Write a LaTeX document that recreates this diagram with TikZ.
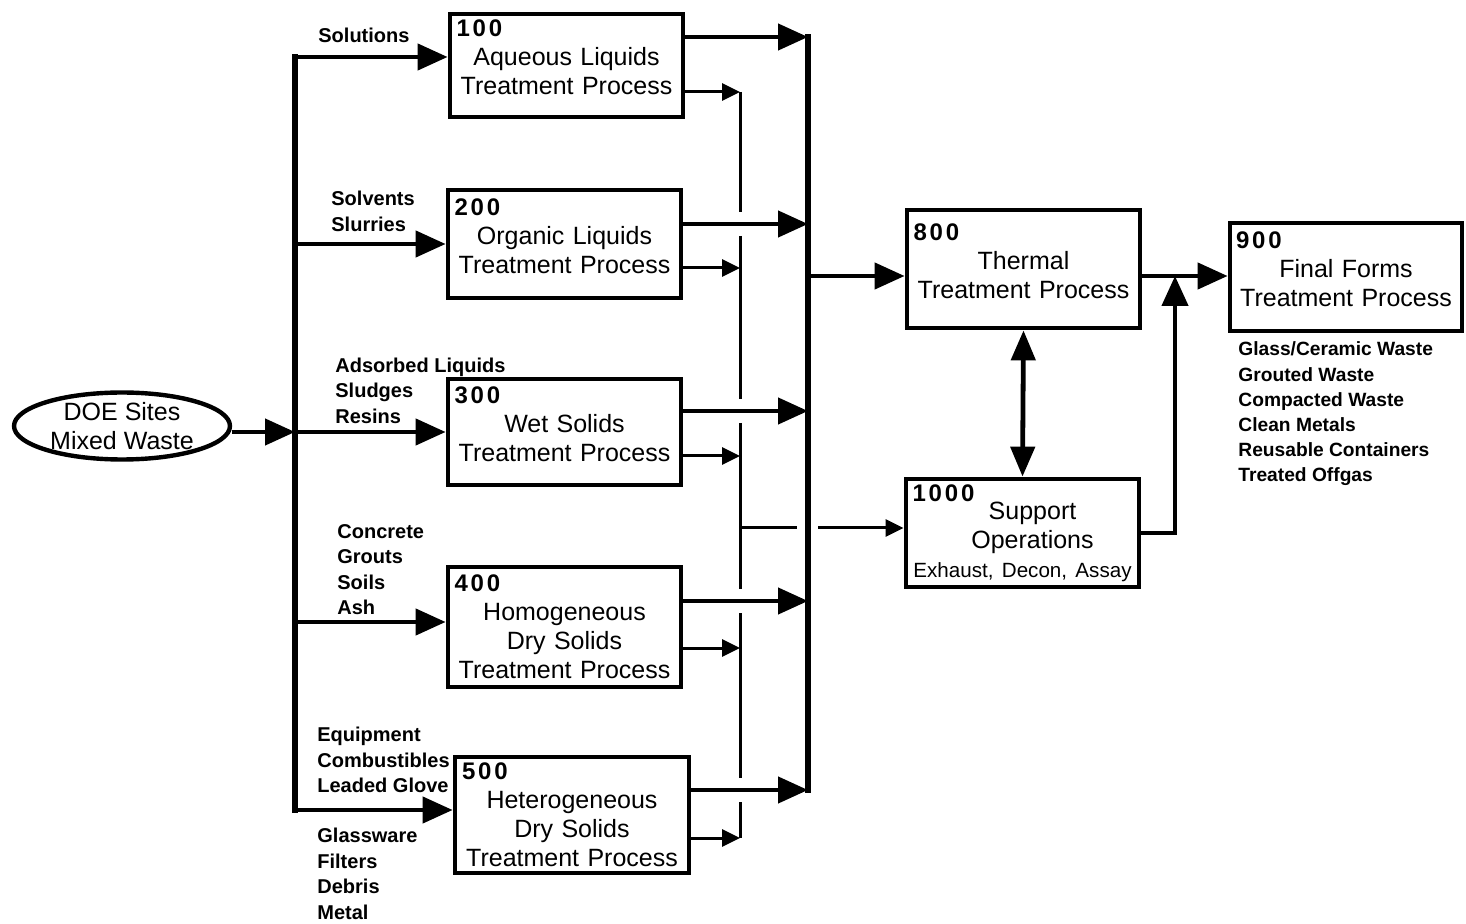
\documentclass[tikz,border=0pt]{standalone}
\usepackage{fontspec}
\setmainfont{Liberation Sans}
\usetikzlibrary{positioning,arrows.meta,shapes.geometric}

\newcommand{\procnum}[1]{\makebox[\linewidth][l]{\fontsize{12}{14.5}\selectfont\bfseries\addfontfeature{LetterSpace=12}#1}}

\begin{document}
\begin{tikzpicture}[x=0.5pt, y=-0.5pt,
  proc/.style={draw, line width=2.4pt, minimum width=116.5pt, text width=110pt, align=center,
    inner xsep=3pt, inner ysep=0pt, font=\fontsize{12.5}{14.5}\selectfont},
  lift/.style={execute at end node={\rule[-8pt]{0pt}{8pt}}},
  src/.style={ellipse, draw, line width=2.2pt, minimum width=108pt, minimum height=31pt, inner sep=0pt,
    align=center, font=\fontsize{12.5}{14.5}\selectfont},
  tag/.style={anchor=west, align=left, inner sep=0pt, font=\fontsize{10}{12.75}\selectfont\bfseries},
  feed/.style={line width=2.2pt, -{Triangle[length=15pt,width=13pt]}},
  tap/.style={line width=1.5pt, -{Triangle[length=9pt,width=8.5pt]}},
  tapline/.style={line width=1.5pt},
  bus/.style={line width=2.8pt, line cap=rect},
  twoway/.style={line width=2.4pt, {Triangle[length=15pt,width=12pt]}-{Triangle[length=15pt,width=12pt]}}]
  \useasboundingbox (0,0) rectangle (1466,924);

  % waste source
  \node[src] (doe) at (122,426) {DOE Sites\\Mixed Waste};

  % treatment processes
  \node[proc, lift, minimum height=51.5pt] (p100) at (566.5,65.5) {\procnum{100}\\Aqueous Liquids\\Treatment Process};
  \node[proc, lift, minimum height=54pt] (p200) at (564.5,244) {\procnum{200}\\Organic Liquids\\Treatment Process};
  \node[proc, lift, minimum height=53pt] (p300) at (564.5,432) {\procnum{300}\\Wet Solids\\Treatment Process};
  \node[proc, minimum height=60pt] (p400) at (564.5,627) {\procnum{400}\\Homogeneous\\Dry Solids\\Treatment Process};
  \node[proc, minimum width=117pt, minimum height=58pt] (p500) at (572,815) {\procnum{500}\\Heterogeneous\\Dry Solids\\Treatment Process};
  \node[proc, lift, minimum height=59pt] (p800) at (1023.5,269) {\procnum{800}\\Thermal\\Treatment Process};
  \node[proc, minimum height=54pt] (p1000) at (1022.5,533) {\procnum{1000}\\[-5.5pt]\hspace*{10pt}Support\\\hspace*{10pt}Operations\\\mbox{\fontsize{10.3}{14}\selectfont Exhaust, Decon, Assay}};
  \node[proc, lift, minimum width=116pt, minimum height=54pt] (p900) at (1346,277) {\procnum{900}\\Final Forms\\Treatment Process};

  % waste streams
  \node[tag] (lsol) at (318,35) {Solutions};
  \node[tag] (lorg) at (331,211.5) {Solvents\\Slurries};
  \node[tag] (lwet) at (335,390.5) {Adsorbed Liquids\\Sludges\\Resins};
  \node[tag] (lhom) at (337,569.5) {Concrete\\Grouts\\Soils\\Ash};
  \node[tag] (lhet) at (317,760) {Equipment\\Combustibles\\Leaded Glove};
  \node[tag] (lmisc) at (317,874) {Glassware\\Filters\\Debris\\Metal};
  \node[tag, font=\fontsize{9.6}{12.6}\selectfont\bfseries] (lforms) at (1238,414)
    {Glass/Ceramic Waste\\Grouted Waste\\Compacted Waste\\Clean Metals\\Reusable Containers\\Treated Offgas};

  % left feed bus
  \coordinate (in1) at (295,57);
  \coordinate (in2) at (295,244);
  \coordinate (in3) at (295,432);
  \coordinate (in4) at (295,622);
  \coordinate (in5) at (295,810);
  \draw[bus] (in1) -- (in5);
  \draw[feed] (doe.east |- in3) -- (in3);
  \foreach \i/\p in {1/p100,2/p200,3/p300,4/p400,5/p500}
    \draw[feed] (in\i) -- (in\i -| \p.west);

  % outputs
  \coordinate (o1) at (808,37);
  \coordinate (o2) at (808,224);
  \coordinate (o3) at (808,411);
  \coordinate (o4) at (808,601);
  \coordinate (o5) at (808,790);
  \coordinate (b1) at (740,92);
  \coordinate (b2) at (740,268);
  \coordinate (b3) at (740,456);
  \coordinate (b4) at (740,648);
  \coordinate (b5) at (740,838);
  \foreach \ya/\yb in {92/212,236/399,423/589,613/778,802/838}
    \draw[tapline] (740,\ya) -- (740,\yb);
  \foreach \i/\p in {1/p100,2/p200,3/p300,4/p400,5/p500} {
    \draw[feed] (o\i -| \p.east) -- (o\i);
    \draw[tap] (b\i -| \p.east) -- (b\i);
  }
  \draw[bus] (o1) -- (o5);

  % to thermal and support
  \coordinate (o8) at (808,276);
  \draw[feed] (o8) -- (o8 -| p800.west);
  \coordinate (bm) at (740,528);
  \coordinate (x1) at (797,528);
  \coordinate (x2) at (818,528);
  \draw[tapline] (bm) -- (x1);
  \draw[tap] (x2) -- (x2 -| p1000.west);

  % to final forms
  \coordinate (j) at (1175,276);
  \draw[feed] (p800.east |- j) -- (j -| p900.west);
  \draw[feed] (p1000.east) -| (j);
  \draw[twoway] (p800.south) -- (p1000.north);
\end{tikzpicture}
\end{document}
